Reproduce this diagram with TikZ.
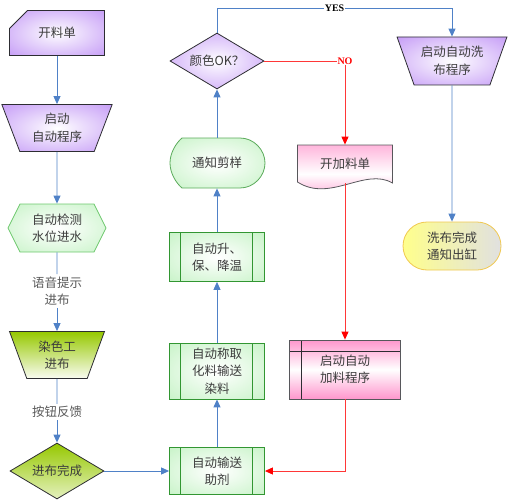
\documentclass[tikz,border=0pt]{standalone}
\usepackage{fontspec}
\setmainfont{Noto Sans CJK SC}
\newfontfamily\latinfont{Liberation Serif}
\usetikzlibrary{shapes.geometric,shapes.misc,shapes.symbols,arrows.meta}
\pgfdeclarelayer{background}
\pgfsetlayers{background,main}

\definecolor{lineblue}{RGB}{79,129,199}
\definecolor{linered}{RGB}{255,55,55}
\definecolor{txtgray}{RGB}{60,60,60}
\definecolor{edgedark}{RGB}{45,45,50}
\definecolor{vio}{RGB}{188,140,245}
\definecolor{procgreen}{RGB}{185,240,185}
\definecolor{procedge}{RGB}{50,150,50}
\definecolor{hexedge}{RGB}{110,200,110}
\definecolor{ygreen}{RGB}{150,200,0}
\definecolor{pinkfill}{RGB}{255,150,205}
\definecolor{yelfill}{RGB}{255,255,140}
\definecolor{yeledge}{RGB}{240,200,80}

\pgfdeclareradialshading{vioglow}{\pgfpoint{0bp}{0bp}}{color(0bp)=(white);
  color(10bp)=(white!75!vio); color(42bp)=(vio); color(50bp)=(vio)}
\pgfdeclareradialshading{greenglow}{\pgfpoint{0bp}{0bp}}{color(0bp)=(white);
  color(10bp)=(white!80!procgreen); color(45bp)=(procgreen); color(50bp)=(procgreen)}

\tikzset{
  base/.style={font=\fontsize{12.5}{17.5}\selectfont, text=txtgray, align=center,
    inner sep=1pt, line width=0.8pt},
  violet/.style={base, draw=edgedark, shading=vioglow},
  trap/.style={trapezium, trapezium stretches=true, shape border rotate=180},
  procbox/.style={base, rectangle, draw=procedge, shading=greenglow,
    minimum width=95pt,
    path picture={
      \draw[procedge, line width=0.8pt]
        ([xshift=11pt]path picture bounding box.north west) --
        ([xshift=11pt]path picture bounding box.south west);
      \draw[procedge, line width=0.8pt]
        ([xshift=-12pt]path picture bounding box.north east) --
        ([xshift=-12pt]path picture bounding box.south east);
    }},
  note/.style={base, fill=white, text=txtgray!85, inner sep=2pt},
  yeslab/.style={font=\latinfont\bfseries\fontsize{10}{12}\selectfont,
    text=black, fill=white, inner sep=1pt},
  nolab/.style={font=\latinfont\bfseries\fontsize{10}{12}\selectfont,
    text=red, fill=white, inner sep=1pt},
  plain/.style={draw=lineblue, line width=0.9pt},
  flow/.style={plain, -{Triangle[length=8pt,width=7pt]}},
  redflow/.style={draw=linered, line width=0.9pt,
    -{Triangle[length=8pt,width=7pt,color=red]}},
}

\begin{document}
\begin{tikzpicture}[x=1pt,y=-1pt]
    \useasboundingbox (0,0) rectangle (508,500);
    % left column
    \node[base, minimum width=95pt, minimum height=45pt] (kld) at (57,33) {开料单};
    \node[violet, trap, trapezium left angle=68, trapezium right angle=68,
      minimum width=111pt, minimum height=47pt] (qd) at (57,128) {启动\\自动程序};
    \node[base, draw=hexedge, shading=greenglow,
      signal, signal to=west and east, signal pointer angle=127,
      minimum width=98pt, minimum height=48pt] (jc) at (57,228) {自动检测\\水位进水};
    \node[note] (tts) at (57,291) {语音提示\\进布};
    \node[base, draw=edgedark, top color=ygreen, bottom color=white!95!ygreen, trap,
      trapezium left angle=70, trapezium right angle=70,
      minimum width=95pt, minimum height=47pt] (rsg) at (57,355) {染色工\\进布};
    \node[note] (an) at (57,412) {按钮反馈};
    \node[base, draw=edgedark, top color=ygreen, bottom color=white!75!ygreen,
      diamond, aspect=1.7, inner sep=0pt, minimum width=94pt, minimum height=56pt]
      (jbwc) at (57,471) {进布完成};
    % middle column
    \node[procbox, minimum height=47pt] (ssz) at (217,471) {自动输送\\助剂};
    \node[procbox, minimum height=56pt] (cl) at (217,371) {自动称取\\化料输送\\染料};
    \node[procbox, minimum height=49pt] (wen) at (217,257) {自动升、\\保、降温};
    \node[base, minimum width=95pt, minimum height=50pt] (jy) at (217,163) {通知剪样};
    \node[violet, diamond, aspect=1.7, inner sep=0pt, minimum width=94pt,
      minimum height=56pt] (ok) at (217,61) {颜色OK？};
    % right side
    \node[base, minimum width=95pt, minimum height=38pt] (jld) at (345,164) {开加料单};
    \node[base, draw=edgedark!80, rectangle, minimum width=111pt, minimum height=59pt,
      top color=pinkfill, bottom color=pinkfill, middle color=white,
      path picture={
        \draw[edgedark, line width=0.8pt]
          ([yshift=-11pt]path picture bounding box.north west) --
          ([yshift=-11pt]path picture bounding box.north east);
        \draw[edgedark, line width=0.8pt]
          ([xshift=12pt]path picture bounding box.north west) --
          ([xshift=12pt]path picture bounding box.south west);
      }] (jlc) at (345,369.5) {启动自动\\加料程序};
    \node[violet, trap, trapezium left angle=65, trapezium right angle=65,
      minimum width=111pt, minimum height=48pt] (xb) at (452,61) {启动自动洗\\布程序};
    \node[base, draw=yeledge, rounded rectangle, left color=yelfill,
      right color=black!12, minimum width=100pt, minimum height=48pt]
      (wc) at (452,246) {洗布完成\\通知出缸};
    % outlines drawn by hand
    \begin{pgfonlayer}{background}
    \begin{scope}[shift={(kld.center)}]
        \draw[line width=0.8pt, draw=edgedark, shading=vioglow]
          (-29.5,-22.5) -- (47.5,-22.5) -- (47.5,22.5) -- (-47.5,22.5)
          -- (-47.5,-4.5) -- cycle;
    \end{scope}
    \begin{scope}[shift={(jy.center)}]
        \draw[line width=0.8pt, draw=procedge!80, shading=greenglow]
          (-35,-25) -- (23,-25) .. controls (37,-25) and (48,-13) .. (48,0)
          .. controls (48,13) and (37,25) .. (23,25) -- (-35,25)
          .. controls (-41,20) and (-47,10) .. (-47,0)
          .. controls (-47,-10) and (-41,-20) .. (-35,-25) -- cycle;
    \end{scope}
    \begin{scope}[shift={(jld.center)}]
        \draw[line width=0.8pt, draw=edgedark!80, top color=pinkfill!70,
          bottom color=pinkfill, middle color=white]
          (-47.5,-19) -- (47.5,-19) -- (47.5,19)
          .. controls (20,3) and (-15,39) .. (-47.5,18) -- cycle;
    \end{scope}
    \end{pgfonlayer}
    % connectors
    \coordinate (yt) at (0,8);
    \draw[flow] (kld) -- (qd);
    \draw[flow] (qd) -- (jc);
    \draw[plain] (jc) -- (tts);
    \draw[flow] (tts) -- (rsg);
    \draw[plain] (rsg) -- (an);
    \draw[flow] (an) -- (jbwc);
    \draw[flow] (jbwc) -- (ssz);
    \draw[flow] (ssz) -- (cl);
    \draw[flow] (cl) -- (wen);
    \draw[flow] (wen) -- (jy);
    \draw[flow] (jy) -- (ok);
    \draw[flow] (ok.north) -- (ok.north |- yt)
      -- node[yeslab] (yes) {YES} (xb.north |- yt) -- (xb.north);
    \draw[flow] (xb) -- (wc);
    \draw[redflow] (ok.east) -- (jld.north |- ok.east) node[nolab] (no) {NO}
      -- (jld.north);
    \draw[redflow] (jld) -- (jlc);
    \draw[redflow] (jlc.south) -- (jlc.south |- ssz.east) -- (ssz.east);
\end{tikzpicture}
\end{document}
